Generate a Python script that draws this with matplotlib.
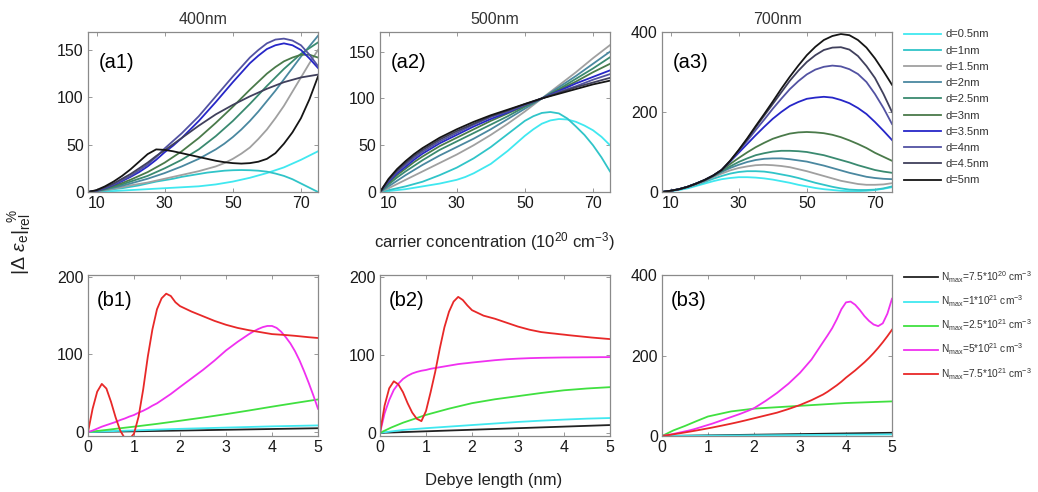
import matplotlib
matplotlib.use('Agg')
import matplotlib.pyplot as plt

plt.rcParams['font.family'] = ['Liberation Sans', 'DejaVu Sans']
plt.rcParams['mathtext.fontset'] = 'custom'
plt.rcParams['mathtext.rm'] = 'Liberation Sans'
plt.rcParams['mathtext.it'] = 'Liberation Sans:italic'
plt.rcParams['mathtext.bf'] = 'Liberation Sans:bold'

# carrier concentration (1e20 cm^-3) and film thickness curves
conc = [7.5, 10, 12.5, 15, 17.5, 20, 22.5, 25, 27.5, 30, 32.5, 35, 37.5, 40,
        42.5, 45, 47.5, 50, 52.5, 55, 57.5, 60, 62.5, 65, 67.5, 70, 72.5, 75]
thickness_labels = ['d=0.5nm', 'd=1nm', 'd=1.5nm', 'd=2nm', 'd=2.5nm',
                    'd=3nm', 'd=3.5nm', 'd=4nm', 'd=4.5nm', 'd=5nm']
thickness_colors = ['#40e8f0', '#30c4c8', '#a0a0a0', '#4a88a0', '#3a8a70',
                    '#4a7a4a', '#2626c8', '#5252a2', '#40405c', '#151515']

rel_400 = [
    [0, 0.3, 0.6, 1, 1.5, 2, 2.5, 3, 3.5, 4, 4.5, 5, 5.5, 6, 7, 8, 9.5, 11, 13, 15, 17.5, 20, 23, 26, 30, 34, 38.5, 43],
    [0, 0.5, 1.5, 3, 4, 5.5, 7, 9, 11, 12.5, 14, 16, 17.5, 19, 20.5, 21.5, 22.5, 23, 23.2, 23, 22.5, 21.5, 19.5, 17, 13.5, 9, 4.5, 0],
    [0, 0.6, 2, 3.5, 5, 7, 8.5, 10, 12, 14, 16, 18, 20, 22, 24.5, 27, 30.5, 35, 40.5, 47, 56, 66, 78, 91, 106, 121, 136, 150],
    [0, 0.8, 2.5, 4.5, 6.5, 9, 11.5, 14, 17, 20, 23.5, 27, 31, 35, 40, 45, 51, 58, 66, 75, 85, 96, 107, 119, 131, 143, 154, 165],
    [0, 1, 3, 5.5, 8, 11, 14, 17, 21, 25, 29.5, 34, 39.5, 45, 52, 59, 67, 75, 84, 93, 102.5, 112, 121, 130, 138, 146, 152, 158],
    [0, 1.1, 3.5, 6.5, 9.5, 13, 17, 21, 26, 31, 37, 43, 50, 57, 65, 73, 81.5, 90, 99, 108, 116.5, 125, 132, 138, 142, 145, 145, 142],
    [0, 1.3, 4, 7.5, 11.5, 16, 21, 27, 34, 42, 49, 57, 66, 75, 85, 95, 105.5, 116, 126, 136, 144, 151, 155, 157, 155, 150, 141, 131],
    [0, 1.4, 4.5, 8, 12.5, 17, 23, 29, 37, 46, 54, 62, 71, 80, 90.5, 101, 111.5, 122, 132, 142, 150, 157, 161, 162, 160, 155, 145, 133],
    [0, 1.6, 5, 9, 14, 19, 25, 31, 38, 44, 50.5, 57, 63.5, 70, 76, 82, 87, 92, 96.5, 101, 105, 109, 112.5, 116, 118.5, 121, 122.5, 124],
    [0, 2, 6, 11, 17, 24, 32, 40, 45, 44.5, 43, 41, 39, 37, 35, 33, 31.5, 30.5, 30, 30.5, 32, 35, 41, 51, 63, 78, 98, 122],
]

rel_500 = [
    [0, 1, 2, 3, 4.5, 6, 7.5, 9, 11, 13, 16, 20, 25, 30, 37, 44, 52, 60, 67, 73, 76.5, 78, 77.5, 75, 71, 66, 59, 50],
    [0, 2, 4, 6, 8.5, 11, 14.5, 18, 22, 26, 31, 36, 42, 48, 55, 62, 69, 76, 81, 84.5, 85.5, 84, 78.5, 70, 61, 50, 37, 22],
    [0, 4, 8.5, 13, 17.5, 22, 26.5, 31, 35.5, 40, 45, 50, 55.5, 61, 67, 73, 79.5, 86, 93, 100, 107, 114, 121, 128, 135.5, 143, 150, 157],
    [0, 6, 12, 18, 23.5, 29, 34, 39, 43.5, 48, 52.5, 57, 62, 67, 72.5, 78, 83.5, 89, 94.5, 100, 106, 112, 118, 124, 130.5, 137, 143.5, 150],
    [0, 8, 15.5, 22, 28, 34, 39.5, 45, 49.5, 54, 58.5, 63, 67.5, 72, 76.5, 81, 86, 91, 95.5, 100, 105, 110, 115.5, 121, 126.5, 132, 138, 144],
    [0, 9.5, 18, 25, 32, 38, 43.5, 49, 53.5, 58, 62.5, 67, 71.5, 76, 80, 84, 88, 92, 96, 100, 104.5, 109, 113.5, 118, 123, 128, 132.5, 137],
    [0, 11, 20, 27, 34.5, 41, 46.5, 52, 56.5, 61, 65.5, 70, 74, 78, 81.5, 85, 89, 93, 96.5, 100, 104, 108, 112, 116, 119.5, 123, 126.5, 130],
    [0, 12, 21.5, 29, 36.5, 43, 48.5, 54, 58.5, 63, 67.5, 72, 76, 80, 83, 86, 89.5, 93, 96.5, 100, 103.5, 107, 110, 113, 116.5, 120, 123, 126],
    [0, 13, 23, 31, 38.5, 45, 50.5, 56, 60.5, 65, 69, 73, 77, 81, 84, 87, 90.5, 94, 97, 100, 103, 106, 109, 112, 114.5, 117, 119.5, 122],
    [0, 14, 24.5, 33, 40.5, 47, 52.5, 58, 62.5, 67, 71, 75, 78.5, 82, 85, 88, 91, 94, 97, 100, 102.5, 105, 107.5, 110, 112.5, 115, 117, 119],
]

rel_700 = [
    [0, 2, 5, 9, 15, 21, 27, 32, 35, 37, 37, 36, 34, 31, 27, 23, 18, 14, 10, 7, 5, 3, 2, 2, 3, 5, 8, 12],
    [0, 2.5, 6, 11, 17, 25, 33, 40, 46, 50, 52, 52, 51, 48, 44, 40, 35, 29, 23, 18, 13, 9, 6, 5, 5, 6, 9, 14],
    [0, 3, 7, 12, 19, 27, 37, 46, 54, 60, 64, 67, 68, 67, 65, 62, 57, 52, 46, 40, 34, 28, 24, 20, 18, 18, 19, 22],
    [0, 3, 7, 13, 21, 28, 39, 50, 60, 68, 75, 80, 83, 84, 84, 82, 79, 76, 71, 66, 60, 54, 48, 43, 38, 35, 33, 32],
    [0, 3, 7, 13, 21, 29, 40, 52, 64, 75, 84, 92, 97, 101, 103, 103, 102, 100, 96, 92, 86, 80, 74, 67, 61, 55, 51, 48],
    [0, 3, 7, 13, 21, 30, 41, 54, 70, 85, 99, 112, 123, 133, 140, 146, 149, 150, 149, 147, 143, 137, 129, 120, 110, 98, 88, 78],
    [0, 3, 7, 13, 21, 30, 41, 55, 76, 98, 120, 142, 163, 183, 200, 215, 225, 233, 236, 238, 236, 230, 222, 210, 195, 175, 153, 130],
    [0, 3, 7, 13, 21, 30, 41, 55, 77, 102, 128, 155, 181, 208, 233, 257, 277, 294, 306, 313, 316, 314, 307, 295, 275, 245, 210, 170],
    [0, 3, 7, 13, 21, 30, 41, 55, 78, 104, 132, 162, 191, 220, 249, 278, 303, 325, 342, 355, 361, 362, 356, 340, 315, 285, 245, 200],
    [0, 3, 7, 13, 21, 30, 41, 55, 78, 105, 134, 165, 195, 226, 258, 288, 316, 342, 363, 380, 390, 395, 392, 380, 361, 334, 302, 268],
]

# Debye length (nm) curves for different maximum carrier densities
debye_coarse = [0, 0.25, 0.5, 0.75, 1, 1.5, 2, 2.5, 3, 3.5, 4, 4.5, 5]
debye_fine = [0, 0.1, 0.2, 0.3, 0.4, 0.5, 0.6, 0.7, 0.8, 0.9, 1.0,
              1.1, 1.2, 1.3, 1.4, 1.5, 1.6, 1.7, 1.8, 1.9, 2.0,
              2.25, 2.5, 2.75, 3.0, 3.25, 3.5,
              3.6, 3.7, 3.8, 3.9, 4.0, 4.1, 4.2, 4.3, 4.4, 4.5, 4.6, 4.7, 4.8, 4.9, 5.0]
nmax_labels = [r'N$_{\mathrm{max}}$=7.5*10$^{20}$ cm$^{-3}$', r'N$_{\mathrm{max}}$=1*10$^{21}$ cm$^{-3}$',
               r'N$_{\mathrm{max}}$=2.5*10$^{21}$ cm$^{-3}$', r'N$_{\mathrm{max}}$=5*10$^{21}$ cm$^{-3}$',
               r'N$_{\mathrm{max}}$=7.5*10$^{21}$ cm$^{-3}$']
nmax_colors = ['#222222', '#40e8f0', '#40e040', '#f030f0', '#e82828']

b1_black = [0, 0.3, 0.6, 0.8, 1.0, 1.5, 2.0, 2.5, 3.0, 3.5, 4.0, 4.5, 5.0]
b1_cyan = [0, 0.6, 1.2, 1.7, 2.2, 3.2, 4.2, 5.0, 5.8, 6.6, 7.4, 8.0, 8.6]
b1_green = [0, 1.8, 3.5, 5.3, 7.0, 10.6, 14.6, 18.7, 23.1, 27.8, 32.7, 37.4, 42.0]
b1_magenta = [0, 2, 4.5, 7, 9, 11, 13, 15.5, 17.5, 20, 22, 25, 27.5, 30.5, 34, 37, 41, 45, 49, 53.5, 58,
              69, 80, 92, 105, 116, 126,
              129.5, 132.5, 135, 136.5, 136.5, 134, 129, 122, 114, 104, 92, 78, 63, 47, 30]
b1_red = [0, 30, 52, 62, 56, 39, 19, 2, -8, -9, -2, 20, 55, 97, 132, 158, 172, 178, 175, 167, 162,
          155, 149, 143, 138, 134, 131,
          130, 129, 128, 127, 126, 125.6, 125.2, 124.8, 124.3, 123.8, 123.2, 122.6, 122, 121.5, 121]

b2_black = [0, 0.5, 1.0, 1.5, 2.0, 3.0, 4.0, 5.0, 6.0, 7.0, 8.0, 9.0, 10.0]
b2_cyan = [0, 1.9, 3.7, 4.9, 6.0, 8.0, 10.0, 12.0, 14.0, 15.6, 17.0, 18.2, 19.0]
b2_green = [0, 7, 13, 18, 23, 31, 38, 43, 47, 51, 54.5, 56.8, 58.5]
b2_magenta = [0, 25, 42, 55, 63, 69, 73, 76, 78, 79.5, 80.5, 82, 83, 84, 85, 86, 87, 88, 88.7, 89.3, 90,
              91.5, 93, 94.2, 95, 95.6, 96,
              96.1, 96.2, 96.3, 96.4, 96.5, 96.5, 96.6, 96.6, 96.7, 96.7, 96.8, 96.8, 96.9, 96.9, 97]
b2_red = [0, 35, 57, 66, 62, 52, 38, 26, 18, 15, 28, 52, 78, 108, 135, 155, 168, 174, 170, 163, 157,
          150, 146, 141, 136, 132, 129,
          128.3, 127.6, 127, 126.3, 125.7, 125, 124.4, 123.8, 123.2, 122.6, 122, 121.5, 121, 120.5, 120]

b3_black = [0, 0.4, 0.8, 1.2, 1.6, 2.4, 3.2, 4.0, 4.8, 5.6, 6.4, 7.2, 8.0]
b3_cyan = [0, 0.2, 0.4, 0.6, 0.8, 1.2, 1.6, 2.0, 2.4, 2.8, 3.2, 3.6, 4.0]
b3_green = [0, 14, 25, 37, 48.5, 61, 68, 71.5, 75, 78.5, 82, 84, 86]
b3_magenta = [0, 2, 4, 6.5, 9, 11.5, 14, 17, 20.5, 24, 27.5, 31, 35, 39, 43, 47, 51, 55, 59.5, 64, 69,
              87, 107, 130, 157, 190, 233,
              250, 268, 290, 315, 332, 334, 326, 313, 298, 286, 277, 273, 280, 304, 341]
b3_red = [0, 1.7, 3.4, 5.2, 7, 8.9, 10.8, 12.8, 14.8, 16.9, 19, 21.2, 23.5, 25.8, 28.2, 30.6, 33.1, 35.7,
          38.4, 41.2, 44,
          51, 58, 67, 77, 89, 103,
          110, 118, 126, 135, 145, 154, 163, 173, 183, 194, 206, 219, 233, 248, 264]


def style(ax, xlim, ylim, xticks, yticks):
    ax.set_xlim(xlim)
    ax.set_ylim(ylim)
    ax.set_xticks(xticks)
    ax.set_yticks(yticks)
    ax.tick_params(direction='in', top=True, right=True, length=3, width=0.6,
                   color='#888888', labelsize=11.5, pad=3, labelcolor='#1a1a1a')
    for s in ax.spines.values():
        s.set_color('#8a8a8a')
        s.set_linewidth(0.9)


fig = plt.figure(figsize=(10.38, 4.92), dpi=100)
W, H = 1038.0, 492.0

lefts = [88, 380, 662]
top_rows = [rel_400, rel_500, rel_700]
top_titles = ['400nm', '500nm', '700nm']
top_ylims = [(0, 169), (0, 171), (0, 400)]
top_yticks = [[0, 50, 100, 150], [0, 50, 100, 150], [0, 200, 400]]

top_handles = []
for k in range(3):
    ax = fig.add_axes([lefts[k] / W, 1 - 192 / H, 230 / W, 160 / H])
    lines = []
    for curve, col in zip(top_rows[k], thickness_colors):
        ln, = ax.plot(conc, curve, color=col, lw=1.3)
        lines.append(ln)
    style(ax, (7.5, 75), top_ylims[k], [10, 30, 50, 70], top_yticks[k])
    ax.set_title(top_titles[k], fontsize=11.5, pad=6, color='#333333')
    ax.text(0.045, 0.81, '(a%d)' % (k + 1), transform=ax.transAxes,
            fontsize=14.5, va='center', ha='left')
    top_handles = lines

bot_sets = [
    (b1_black, b1_cyan, b1_green, b1_magenta, b1_red),
    (b2_black, b2_cyan, b2_green, b2_magenta, b2_red),
    (b3_black, b3_cyan, b3_green, b3_magenta, b3_red),
]
bot_ylims = [(-5, 202), (-4, 202), (0, 400)]
bot_yticks = [[0, 100, 200], [0, 100, 200], [0, 200, 400]]

bot_handles = []
for k in range(3):
    ax = fig.add_axes([lefts[k] / W, 1 - 436 / H, 230 / W, 161 / H])
    black, cyan, green, magenta, red = bot_sets[k]
    lines = []
    for xs, ys, col in [(debye_coarse, black, nmax_colors[0]),
                        (debye_coarse, cyan, nmax_colors[1]),
                        (debye_coarse, green, nmax_colors[2]),
                        (debye_fine, magenta, nmax_colors[3]),
                        (debye_fine, red, nmax_colors[4])]:
        ln, = ax.plot(xs, ys, color=col, lw=1.3)
        lines.append(ln)
    style(ax, (0, 5), bot_ylims[k], [0, 1, 2, 3, 4, 5], bot_yticks[k])
    ax.text(0.04, 0.84, '(b%d)' % (k + 1), transform=ax.transAxes,
            fontsize=14.5, va='center', ha='left')
    bot_handles = lines

fig.legend(top_handles, thickness_labels, loc='upper left',
           bbox_to_anchor=(900 / W, 1 - 25 / H), frameon=False, fontsize=8,
           handlelength=3.3, handletextpad=0.4, labelspacing=0.56,
           borderaxespad=0, labelcolor='#333333')
fig.legend(bot_handles, nmax_labels, loc='upper left',
           bbox_to_anchor=(900 / W, 1 - 265 / H), frameon=False, fontsize=7.3,
           handlelength=3.3, handletextpad=0.3, labelspacing=0.85,
           borderaxespad=0, labelcolor='#333333')

fig.text(494 / W, 1 - 242 / H, r'carrier concentration (10$^{20}$ cm$^{-3}$)',
         ha='center', va='center', fontsize=12, color='#222222')
fig.text(494 / W, 1 - 480 / H, 'Debye length (nm)',
         ha='center', va='center', fontsize=12, color='#222222')
fig.text(20 / W, 1 - 242 / H, r'$|\Delta\ \varepsilon_{\mathrm{e}}|_{\mathrm{rel}}^{\ \ \%}$',
         ha='center', va='center', rotation=90, fontsize=14, color='#222222')

fig.savefig('out.png', dpi=100)
